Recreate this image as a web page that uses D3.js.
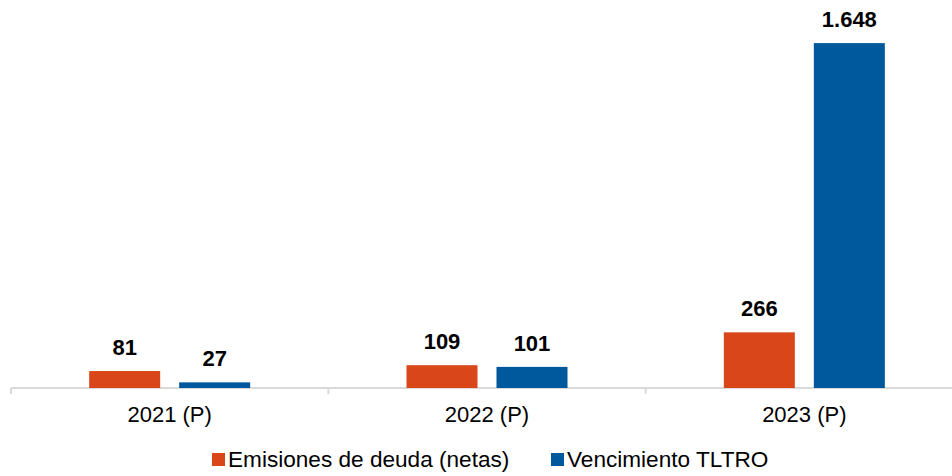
<!DOCTYPE html>
<html><head><meta charset="utf-8">
<script src="https://cdn.jsdelivr.net/npm/d3@7"></script>
<style>body{margin:0;background:#fff}svg{display:block}text{font-family:"Liberation Sans",Arial,sans-serif}</style>
</head><body><svg id="c" width="952" height="476"></svg>
<script>
const categories = ["2021 (P)", "2022 (P)", "2023 (P)"];
const seriesNames = ["Emisiones de deuda (netas)", "Vencimiento TLTRO"];
const emisiones = [81, 109, 266];
const vencimiento = [27, 101, 1648];
const colors = ["#D9461A", "#00589D"];

const seriesValues = [emisiones, vencimiento];
const svg = d3.select("#c");
const baseY = 388;
const x0 = d3.scaleBand().domain(categories).range([11, 963]).padding(0);
const groupW = 161;
const inset = (x0.bandwidth() - groupW) / 2;
const x1 = d3.scaleBand().domain(seriesNames).range([0, groupW]).paddingInner(0.211).paddingOuter(0);
const y = d3.scaleLinear().domain([0, 1800]).range([baseY, 11.3]);
const es = d3.formatLocale({decimal: ",", thousands: ".", grouping: [3], currency: ["", "€"]});
const fmt = es.format(",d");

// axis
const axis = d3.axisBottom(x0).tickSize(0).tickPadding(0);
const gx = svg.append("g").attr("transform", `translate(0,${baseY})`).call(axis);
gx.select(".domain").remove();
gx.selectAll(".tick text").remove();
svg.append("line").attr("x1", 11).attr("x2", 952).attr("y1", baseY).attr("y2", baseY)
  .attr("stroke", "#D9D9D9").attr("stroke-width", 2);
const tickXs = categories.map(c => x0(c)).concat([x0.range()[1]]);
svg.selectAll("line.tk").data(tickXs).join("line").attr("class", "tk")
  .attr("x1", d => d).attr("x2", d => d).attr("y1", baseY).attr("y2", baseY + 6)
  .attr("stroke", "#D9D9D9").attr("stroke-width", 2);
svg.selectAll("text.cat").data(categories).join("text").attr("class", "cat")
  .attr("x", d => x0(d) + x0.bandwidth() / 2).attr("y", 421.5)
  .attr("text-anchor", "middle").attr("font-size", 22).attr("fill", "#000").text(d => d);

// bars
seriesNames.forEach((s, si) => {
  const vals = seriesValues[si];
  const g = svg.append("g");
  g.selectAll("rect").data(categories).join("rect")
    .attr("x", (c) => x0(c) + inset + x1(s))
    .attr("y", (c, i) => y(vals[i]))
    .attr("width", x1.bandwidth())
    .attr("height", (c, i) => baseY - y(vals[i]))
    .attr("fill", colors[si]);
  g.selectAll("text").data(categories).join("text")
    .attr("x", (c) => x0(c) + inset + x1(s) + x1.bandwidth() / 2)
    .attr("y", (c, i) => y(vals[i]) - 16)
    .attr("text-anchor", "middle").attr("font-size", 22).attr("font-weight", "bold")
    .attr("fill", "#000").text((c, i) => fmt(vals[i]));
});

// legend
const legX = [212, 551];
seriesNames.forEach((s, si) => {
  svg.append("rect").attr("x", legX[si]).attr("y", 453).attr("width", 13).attr("height", 13).attr("fill", colors[si]);
  svg.append("text").attr("x", legX[si] + 16).attr("y", 467).attr("font-size", 22.6).attr("fill", "#000").text(s);
});
</script></body></html>
